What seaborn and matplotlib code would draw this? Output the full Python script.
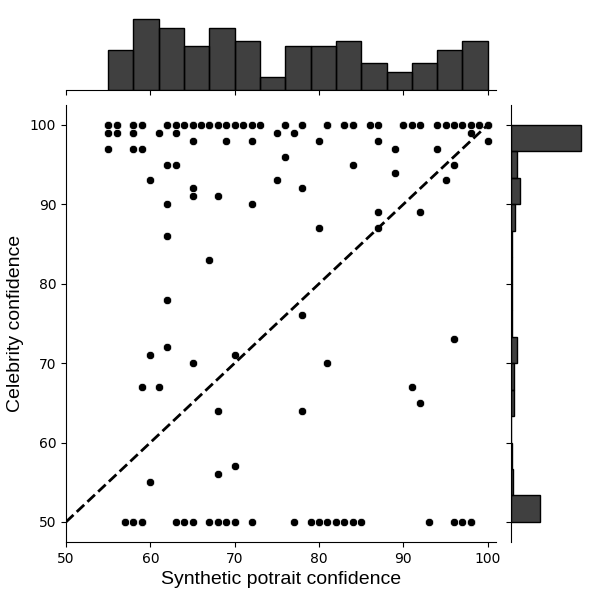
import matplotlib

matplotlib.use("Agg")
import matplotlib.pyplot as plt
import seaborn as sns

# scatter points read row by row (celebrity confidence level -> synthetic values)
rows = {
    100: [55, 56, 58, 59, 62, 63, 64, 65, 66, 67, 68, 69, 70, 71, 72, 73, 76, 78,
          81, 83, 84, 86, 87, 90, 91, 92, 94, 95, 96, 97, 98, 99, 100],
    99: [55, 56, 58, 61, 63, 75, 77, 98],
    98: [65, 69, 72, 80, 87, 100],
    97: [55, 58, 59, 89, 94],
    96: [76],
    95: [62, 63, 84, 96],
    94: [89],
    93: [60, 75, 95],
    92: [65, 78],
    91: [65, 68],
    90: [62, 72],
    89: [87, 92],
    87: [80, 87],
    86: [62],
    83: [67],
    78: [62],
    76: [78],
    73: [96],
    72: [62],
    71: [60, 70],
    70: [65, 81],
    67: [59, 61, 91],
    65: [92],
    64: [68, 78],
    57: [70],
    56: [68],
    55: [60],
    50: [57, 58, 59, 63, 64, 65, 67, 68, 69, 70, 72, 77, 79, 80, 81, 82, 83, 84,
         85, 93, 96, 97, 98],
}

# overlapping (hidden) points, estimated from the marginal histogram heights
dup_top = [55, 56, 58, 59, 62, 63, 65, 67, 68, 70, 76, 78, 81, 81, 83, 83, 84, 84,
           90, 96, 99, 100]
dup_99 = [58]
dup_bottom = [57, 58, 59, 68, 70, 80, 82, 98]

synthetic = []
celebrity = []
for level, xs in rows.items():
    synthetic += xs
    celebrity += [level] * len(xs)
for level, xs in [(100, dup_top), (99, dup_99), (50, dup_bottom)]:
    synthetic += xs
    celebrity += [level] * len(xs)

sns.set_style("ticks", {"axes.edgecolor": "k", "text.color": "k",
                        "axes.labelcolor": "k", "xtick.color": "k",
                        "ytick.color": "k"})

g = sns.jointplot(x=synthetic, y=celebrity, color="k", height=6,
                  marginal_kws=dict(bins=15, edgecolor="k", linewidth=1))
g.ax_joint.plot([50, 100], [50, 100], "k--", lw=2)
g.ax_joint.set_xlim(50, 101)
g.ax_joint.set_xticks([50, 60, 70, 80, 90, 100])
g.set_axis_labels("Synthetic potrait confidence", "Celebrity confidence",
                  fontsize=14, family="Liberation Sans")

# fixed layout so the labels stay inside the figure
g.ax_joint.set_position([0.11, 0.097, 0.717, 0.728])
g.ax_marg_x.set_position([0.11, 0.85, 0.717, 0.124])
g.ax_marg_y.set_position([0.852, 0.097, 0.123, 0.728])

g.figure.savefig("out.png", dpi=100)
plt.close()
